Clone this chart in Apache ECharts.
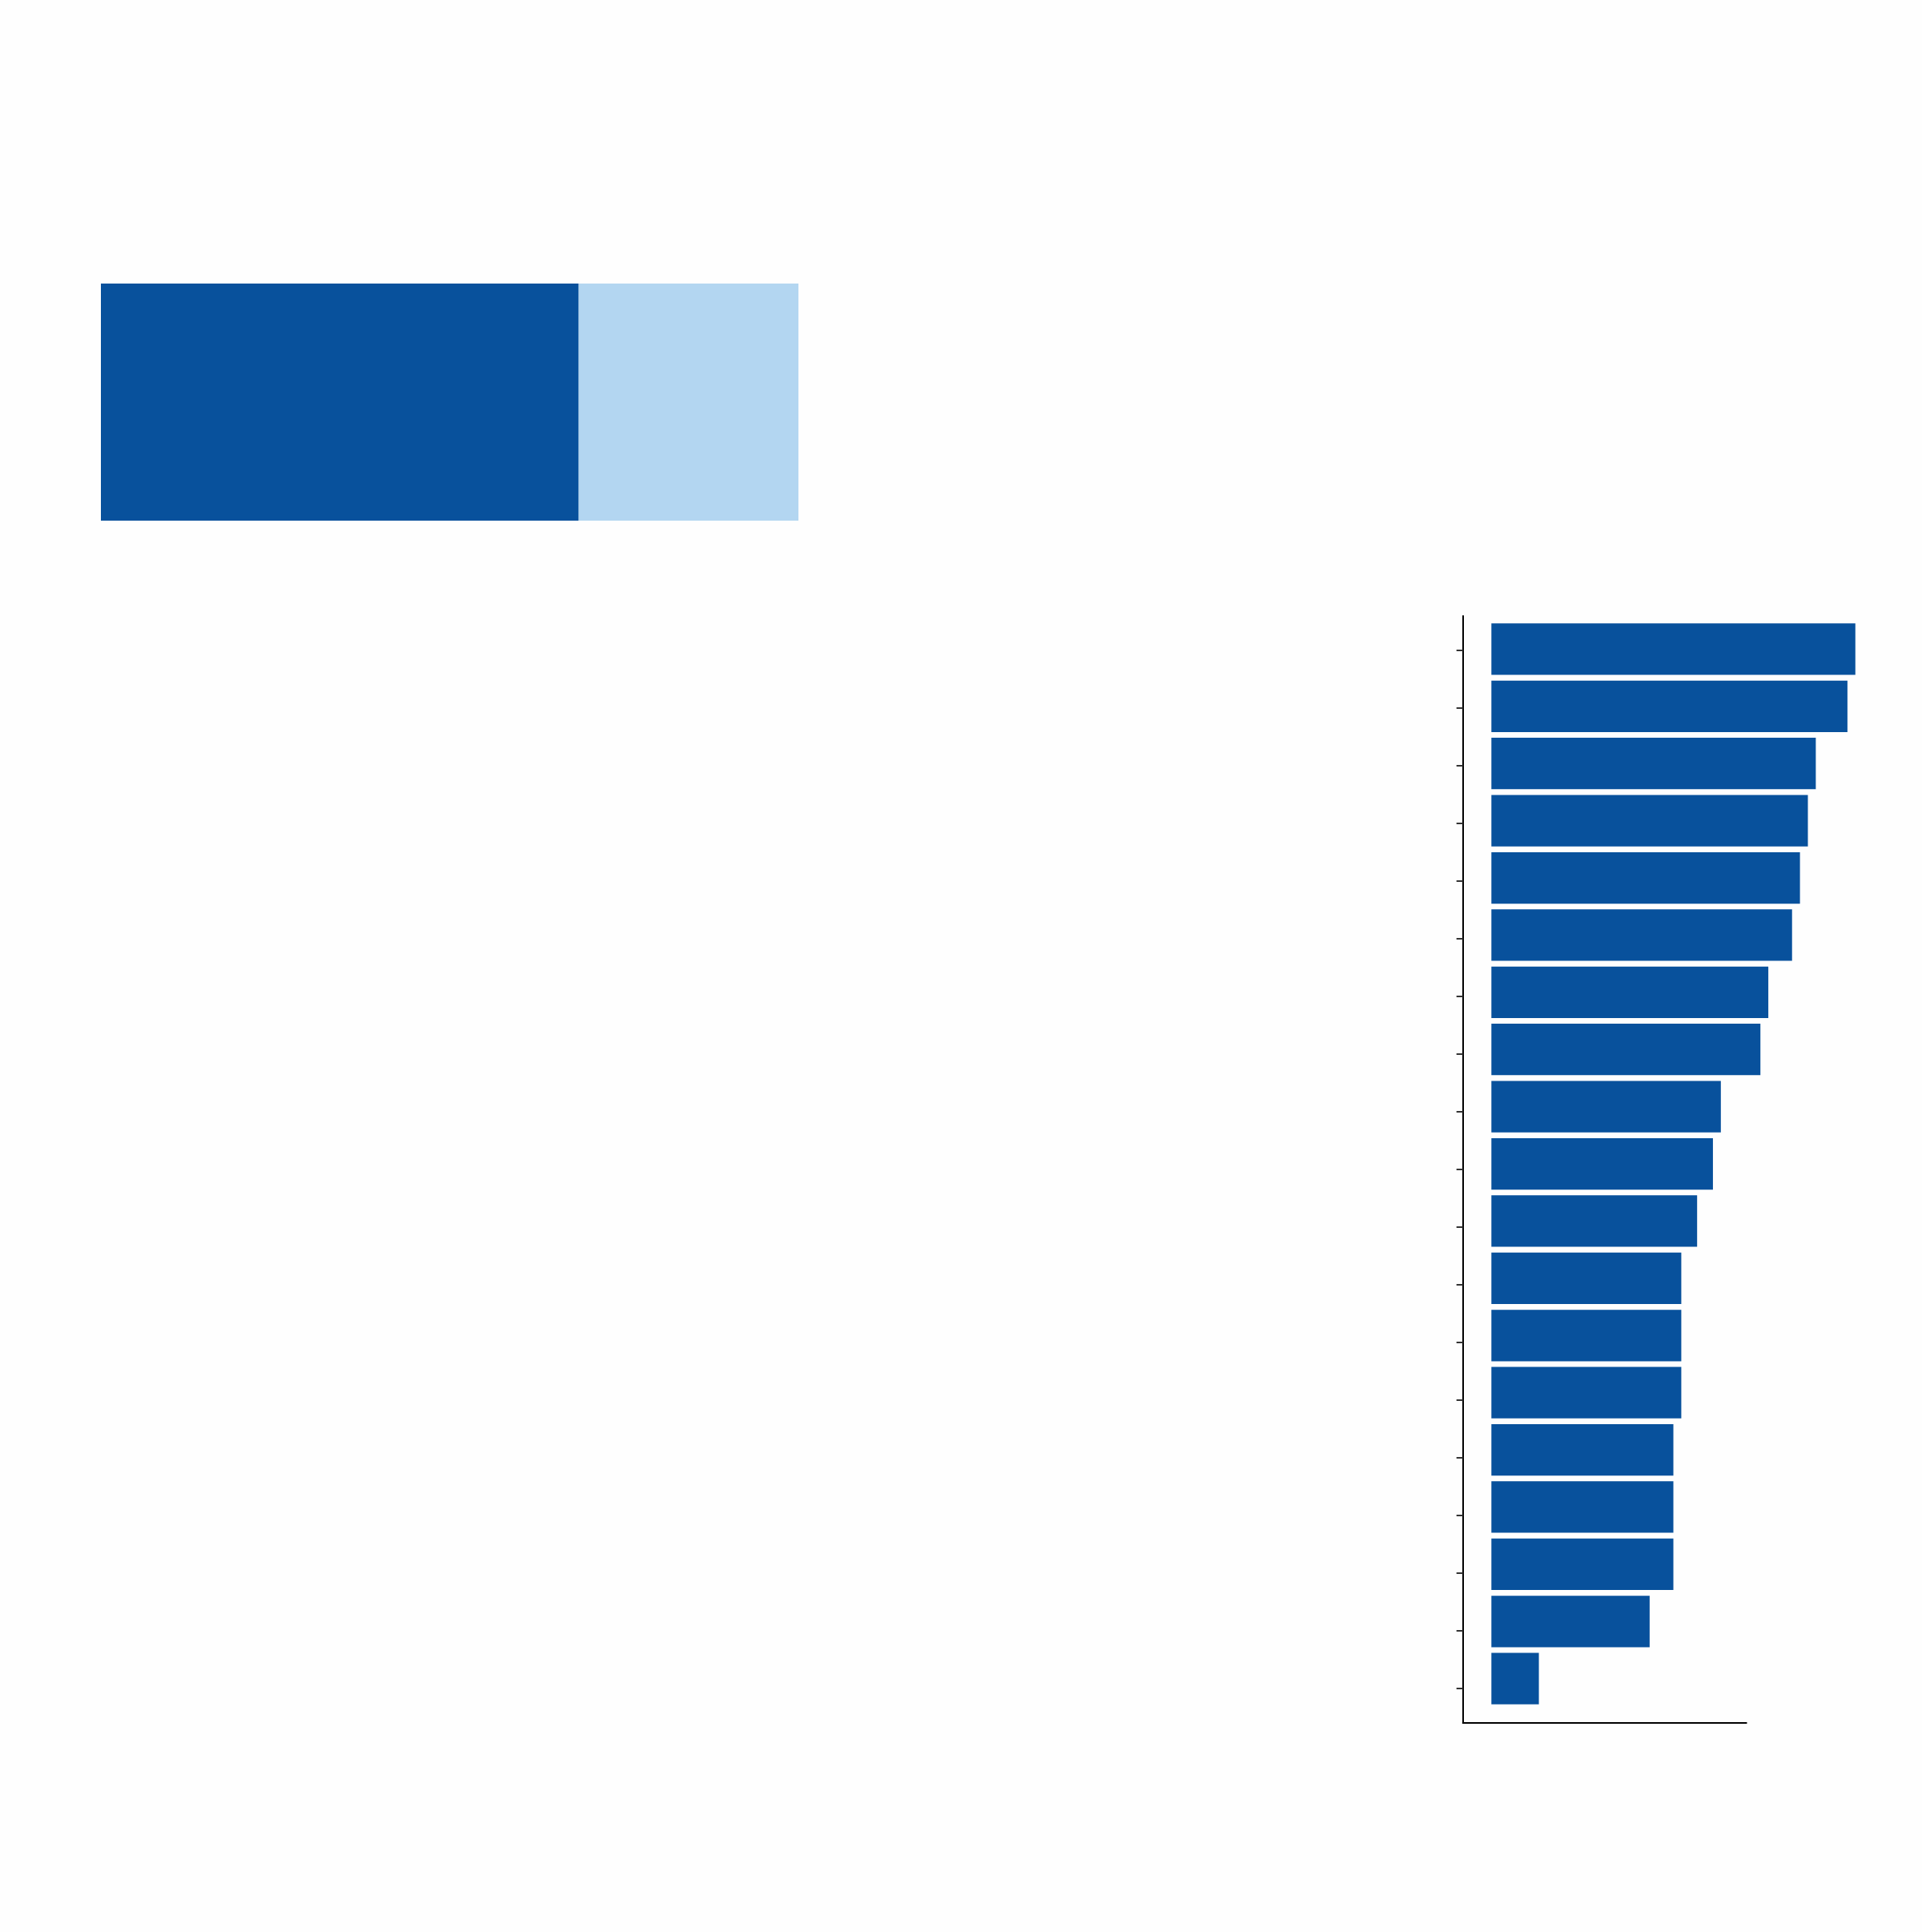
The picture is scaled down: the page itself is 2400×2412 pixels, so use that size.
<!DOCTYPE html>
<html>
<head>
<meta charset="utf-8">
<script src="https://cdn.jsdelivr.net/npm/echarts@6/dist/echarts.min.js"></script>
<style>
html,body{margin:0;padding:0;background:#fefefe;}
#chart{width:2400px;height:2412px;}
</style>
</head>
<body>
<div id="chart"></div>
<script>
// ---- data ----
const shareLabels = ['Part A', 'Part B'];
const shareValues = [68.5, 31.5];

const categories = ['C1','C2','C3','C4','C5','C6','C7','C8','C9','C10','C11','C12','C13','C14','C15','C16','C17','C18','C19'];
const values = [46, 45, 41, 40, 39, 38, 35, 34, 29, 28, 26, 24, 24, 24, 23, 23, 23, 20, 6];
const tickPositions = [0,1,2,3,4,5,6,7,8,9,10,11,12,13,14,15,16,17,18];

const DARK = '#08519c';
const LIGHT = '#b3d6f1';

const chart = echarts.init(document.getElementById('chart'), null, {renderer: 'canvas'});

const option = {
  backgroundColor: '#fefefe',
  animation: false,
  grid: [
    // 0: stacked share bar
    {left: 126, top: 354, width: 871, height: 296, containLabel: false},
    // 1: ranked bars
    {left: 1862.3, top: 774.7, width: 494, height: 1356.7, containLabel: false},
    // 2: trimmed axes frame
    {left: 1826.7, top: 769, width: 354, height: 1382, containLabel: false}
  ],
  xAxis: [
    {gridIndex: 0, type: 'value', min: 0, max: 100, show: false},
    {gridIndex: 1, type: 'value', min: 0, max: 50, show: false},
    {gridIndex: 2, type: 'value', min: 0, max: 1,
      axisLine: {show: true, onZero: false, lineStyle: {color: '#000', width: 2}},
      axisTick: {show: false}, axisLabel: {show: false}, splitLine: {show: false}}
  ],
  yAxis: [
    {gridIndex: 0, type: 'category', data: ['share'], show: false},
    {gridIndex: 1, type: 'category', data: categories, inverse: true, show: false},
    {gridIndex: 2, type: 'value', min: -0.6, max: 18.6, inverse: true,
      axisLine: {show: true, onZero: false, lineStyle: {color: '#000', width: 2}},
      axisTick: {show: true, customValues: tickPositions, length: 8, lineStyle: {color: '#333', width: 2}},
      axisLabel: {show: false}, splitLine: {show: false}}
  ],
  series: [
    {
      name: shareLabels[0], type: 'bar', xAxisIndex: 0, yAxisIndex: 0, stack: 'share',
      data: [shareValues[0]], barWidth: '100%', itemStyle: {color: DARK}
    },
    {
      name: shareLabels[1], type: 'bar', xAxisIndex: 0, yAxisIndex: 0, stack: 'share',
      data: [shareValues[1]], barWidth: '100%', itemStyle: {color: LIGHT}
    },
    {
      name: 'ranked', type: 'bar', xAxisIndex: 1, yAxisIndex: 1,
      data: values, barCategoryGap: '10%', itemStyle: {color: DARK}
    }
  ]
};

chart.setOption(option);
</script>
</body>
</html>
